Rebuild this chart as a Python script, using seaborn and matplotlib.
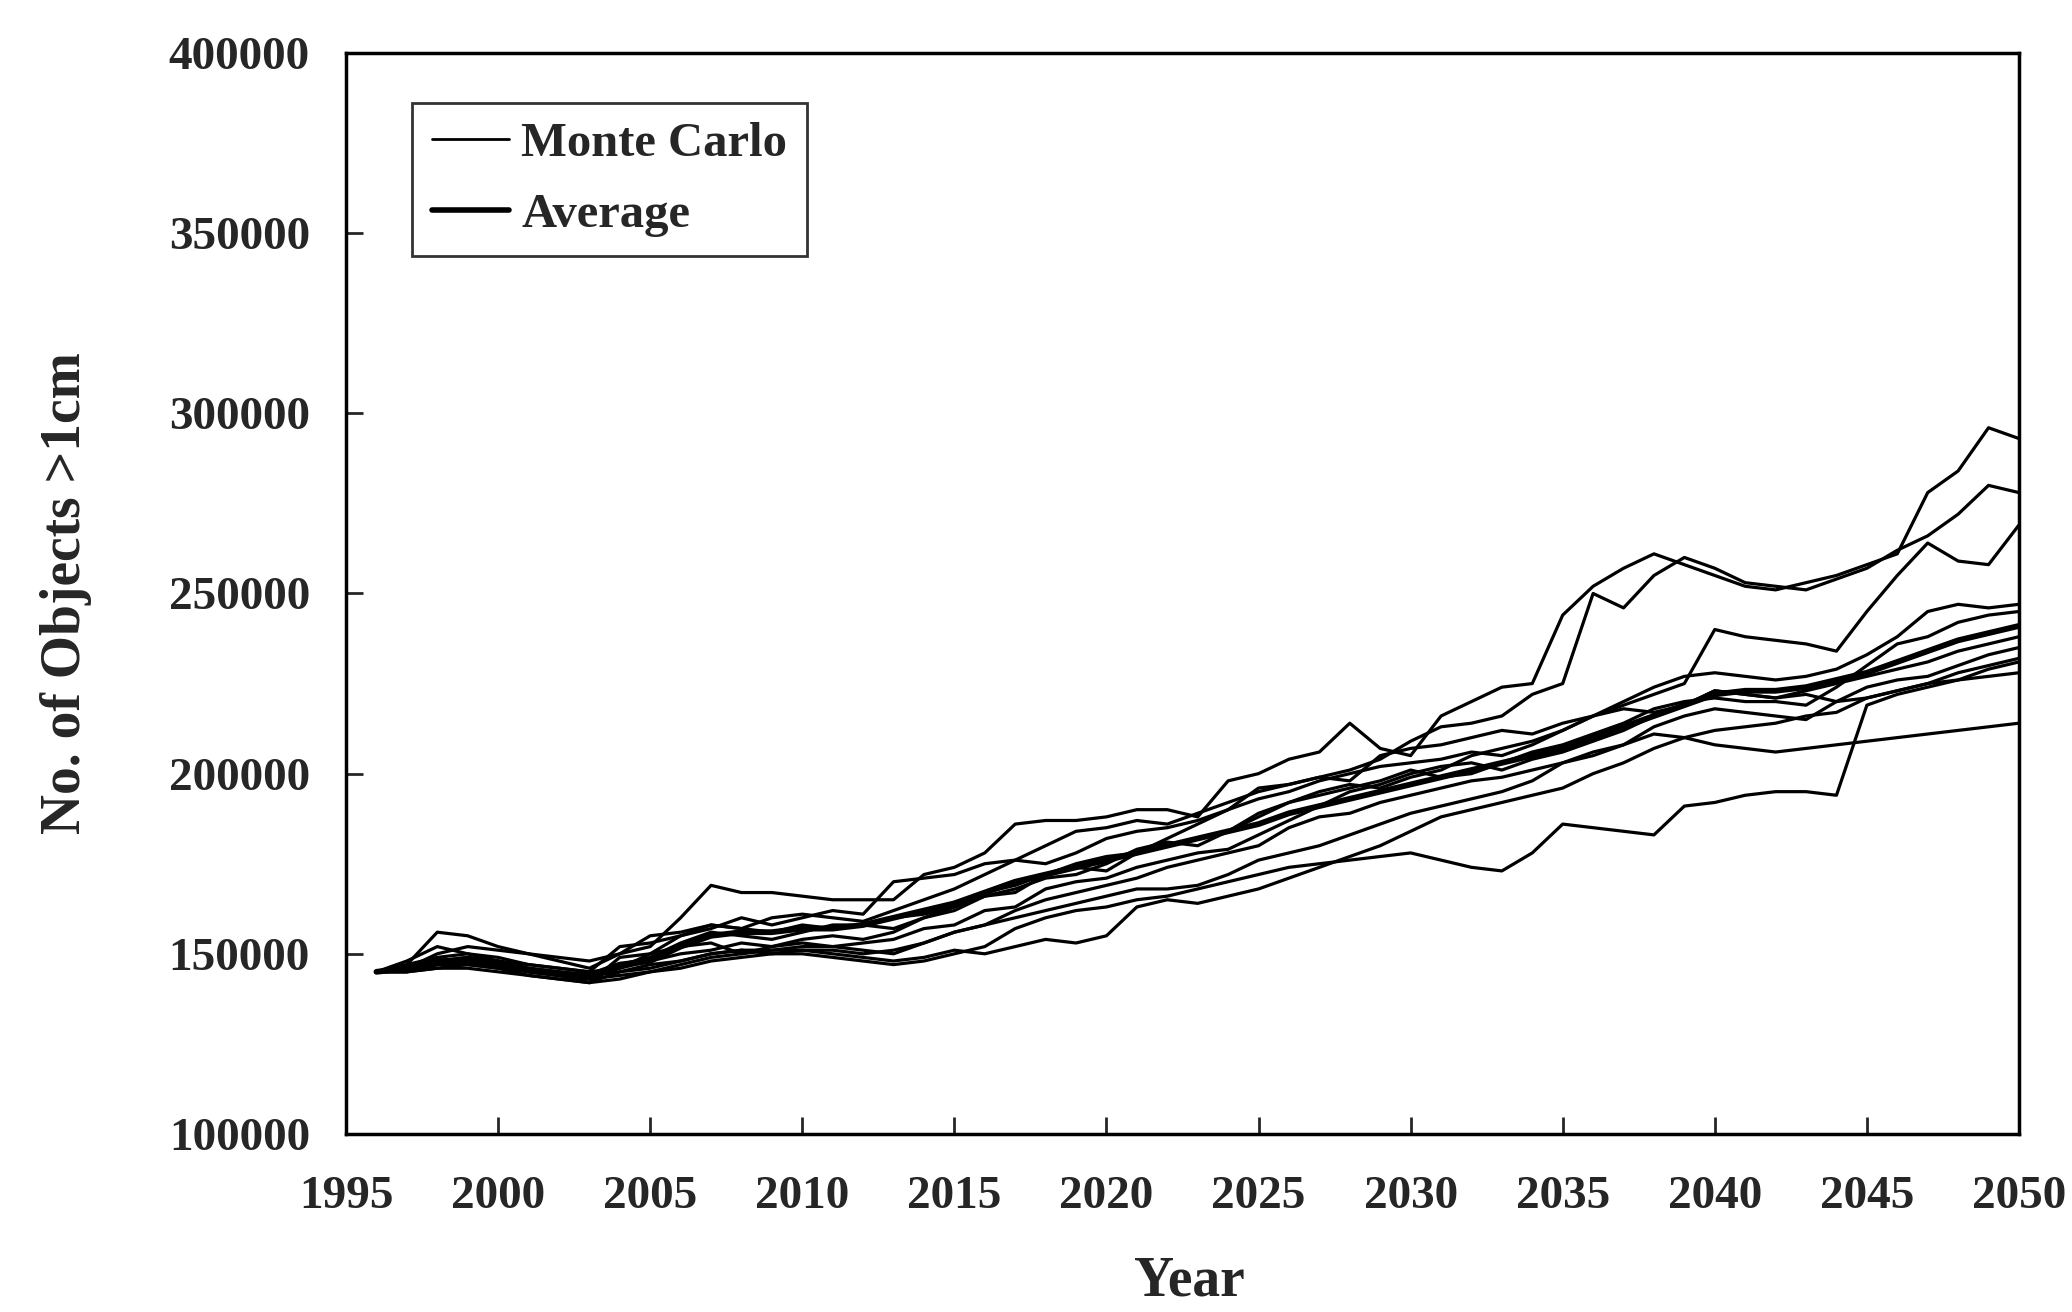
"""Monte Carlo projections of the number of objects >1cm, 1996-2050."""
import matplotlib; matplotlib.use("Agg")
import matplotlib.pyplot as plt
from matplotlib.lines import Line2D
import numpy as np
import pandas as pd
import seaborn as sns

# ── DATA (thousands of objects, one value per year) ─────────────────────────
YEARS = list(range(1996, 2051))

RUN_01 = [145, 146, 150, 152, 151, 150, 149, 148, 150, 152,
          160, 169, 167, 167, 166, 165, 165, 165, 172, 174,
          178, 186, 187, 187, 188, 190, 190, 188, 198, 200,
          204, 206, 214, 207, 205, 216, 220, 224, 225, 244,
          252, 257, 261, 258, 255, 252, 251, 253, 255, 258,
          261, 278, 284, 296, 293]
RUN_02 = [145, 147, 149, 150, 149, 147, 146, 145, 152, 153,
          155, 157, 160, 158, 160, 162, 161, 170, 171, 172,
          175, 176, 180, 184, 185, 187, 186, 189, 192, 195,
          197, 199, 201, 204, 209, 213, 214, 216, 222, 225,
          250, 246, 255, 260, 257, 253, 252, 251, 254, 257,
          262, 266, 272, 280, 278]
RUN_03 = [145, 145, 147, 148, 147, 145, 144, 143, 146, 148,
          150, 151, 153, 152, 154, 155, 154, 156, 160, 163,
          167, 169, 172, 174, 173, 178, 180, 182, 184, 188,
          192, 195, 197, 196, 199, 201, 205, 207, 209, 212,
          216, 219, 222, 225, 240, 238, 237, 236, 234, 245,
          255, 264, 259, 258, 269]
RUN_04 = [145, 145, 146, 146, 145, 144, 143, 142, 143, 145,
          146, 148, 149, 150, 150, 149, 148, 147, 148, 150,
          152, 157, 160, 162, 163, 165, 166, 168, 170, 172,
          174, 175, 176, 177, 178, 176, 174, 173, 178, 186,
          185, 184, 183, 191, 192, 194, 195, 195, 194, 219,
          222, 224, 226, 229, 231]
RUN_05 = [145, 146, 148, 149, 148, 146, 145, 144, 145, 146,
          148, 150, 151, 151, 152, 152, 151, 150, 153, 156,
          158, 160, 162, 164, 166, 168, 168, 169, 172, 176,
          178, 180, 183, 186, 189, 191, 193, 195, 198, 203,
          206, 208, 211, 210, 208, 207, 206, 207, 208, 209,
          210, 211, 212, 213, 214]
RUN_06 = [145, 147, 156, 155, 152, 150, 148, 146, 150, 155,
          156, 158, 157, 160, 161, 160, 159, 162, 165, 168,
          172, 176, 175, 178, 182, 184, 185, 187, 190, 193,
          195, 198, 200, 202, 203, 204, 206, 205, 208, 212,
          216, 220, 224, 227, 228, 227, 226, 227, 229, 233,
          238, 245, 247, 246, 247]
RUN_07 = [145, 148, 152, 150, 148, 146, 145, 144, 147, 149,
          153, 156, 155, 154, 156, 158, 158, 157, 160, 162,
          166, 168, 171, 172, 175, 179, 181, 180, 184, 189,
          192, 194, 196, 198, 201, 199, 200, 203, 206, 208,
          211, 214, 218, 220, 221, 220, 220, 219, 224, 230,
          236, 238, 242, 244, 245]
RUN_08 = [145, 146, 147, 148, 147, 145, 144, 142, 149, 150,
          152, 153, 150, 152, 153, 152, 153, 154, 157, 158,
          162, 163, 168, 170, 171, 174, 176, 178, 179, 183,
          187, 191, 195, 197, 200, 202, 203, 201, 204, 206,
          209, 212, 216, 219, 223, 222, 221, 223, 225, 227,
          229, 231, 234, 236, 238]
RUN_09 = [145, 145, 146, 147, 146, 144, 143, 142, 145, 147,
          148, 150, 151, 150, 151, 151, 150, 151, 153, 156,
          158, 162, 165, 167, 169, 171, 174, 176, 178, 180,
          185, 188, 189, 192, 194, 196, 198, 199, 201, 203,
          205, 208, 213, 216, 218, 217, 216, 215, 220, 224,
          226, 227, 230, 233, 235]
RUN_10 = [145, 146, 147, 147, 146, 145, 144, 143, 144, 145,
          147, 149, 150, 151, 151, 150, 149, 148, 149, 151,
          150, 152, 154, 153, 155, 163, 165, 164, 166, 168,
          171, 174, 177, 180, 184, 188, 190, 192, 194, 196,
          200, 203, 207, 210, 212, 213, 214, 216, 217, 221,
          223, 225, 228, 230, 232]
RUN_11 = [145, 146, 148, 149, 148, 147, 146, 145, 146, 150,
          155, 158, 157, 156, 158, 157, 158, 160, 161, 163,
          166, 167, 172, 175, 177, 178, 182, 186, 190, 196,
          197, 199, 198, 205, 207, 208, 210, 212, 211, 214,
          216, 218, 217, 219, 223, 222, 221, 222, 220, 221,
          223, 225, 226, 227, 228]
AVERAGE = [145, 146, 148, 148, 147, 145.5, 144.5, 144, 147, 148,
           152, 155, 156, 156, 157, 157, 158, 160, 162, 164,
           167, 170, 172, 174, 176, 178, 180, 182, 184, 186,
           189, 191, 193, 195, 197, 199, 201, 203, 205, 207,
           210, 213, 216, 219, 222, 223, 223, 224, 226, 228,
           231, 234, 237, 239, 241]

RUNS = [RUN_01, RUN_02, RUN_03, RUN_04, RUN_05, RUN_06,
        RUN_07, RUN_08, RUN_09, RUN_10, RUN_11]

# ── long-form tables ────────────────────────────────────────────────────────
mc = pd.DataFrame({
    "year": YEARS * len(RUNS),
    "n": np.concatenate(RUNS) * 1000,
    "run": np.repeat(np.arange(len(RUNS)), len(YEARS)),
})
avg = pd.DataFrame({"year": YEARS, "n": np.array(AVERAGE) * 1000})

sns.set_theme(style="white")
plt.rcParams["font.family"] = ["Liberation Serif", "DejaVu Serif"]
plt.rcParams["font.weight"] = "bold"

fig = plt.figure(figsize=(20.72, 13.12), dpi=100)
ax = fig.add_axes([0.167, 0.1357, 0.8074, 0.8239])

sns.lineplot(data=mc, x="year", y="n", units="run", estimator=None,
             color="black", lw=2.3, ax=ax, legend=False)
sns.lineplot(data=avg, x="year", y="n", color="black", lw=4.2, ax=ax,
             legend=False)

ax.set_xlim(1995, 2050)
ax.set_ylim(100000, 400000)
ax.set_xticks(range(1995, 2051, 5))
ax.set_yticks(range(100000, 400001, 50000))
ax.tick_params(axis="x", direction="in", length=12, width=2, pad=30,
               labelsize=34, top=False, bottom=True)
ax.tick_params(axis="y", direction="in", length=12, width=2, pad=26,
               labelsize=34, left=True, right=False)
for lab in ax.get_xticklabels() + ax.get_yticklabels():
    lab.set_fontweight("bold")
for sp in ax.spines.values():
    sp.set_linewidth(2.5)
    sp.set_color("black")

ax.set_xlabel("Year", fontsize=40, fontweight="bold")
ax.set_ylabel("No. of Objects >1cm", fontsize=40, fontweight="bold")
ax.xaxis.set_label_coords(0.504, -0.112)
ax.yaxis.set_label_coords(-0.152, 0.5)

# legend: thin line = single run, thick line = average
handles = [Line2D([], [], color="black", lw=2.0),
           Line2D([], [], color="black", lw=4.0)]
leg = ax.legend(handles, ["Monte Carlo", "Average"], loc="upper left",
                bbox_to_anchor=(0.0395, 0.954), borderaxespad=0,
                fontsize=35, frameon=True, fancybox=False, shadow=False,
                handlelength=1.6, handletextpad=0.25, borderpad=0.4,
                labelspacing=0.55)
leg.get_frame().set_edgecolor("black")
leg.get_frame().set_linewidth(2.0)
for t in leg.get_texts():
    t.set_fontweight("bold")

fig.savefig("out.png", dpi=100, facecolor="white")
